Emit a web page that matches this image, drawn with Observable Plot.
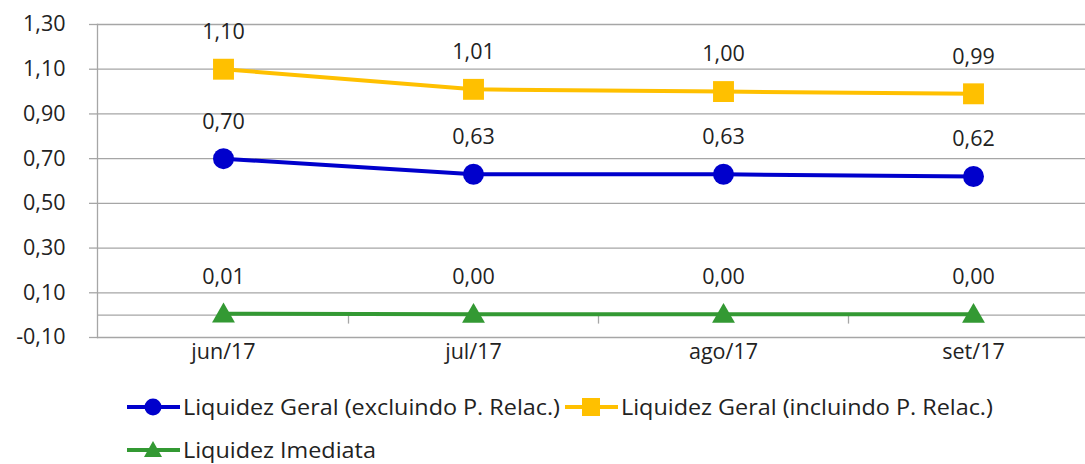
<!DOCTYPE html>
<html><head><meta charset="utf-8">
<script src="https://cdn.jsdelivr.net/npm/d3@7"></script>
<script src="https://cdn.jsdelivr.net/npm/@observablehq/plot@0.6"></script>
<style>
body{margin:0;background:#fff;font-family:"Open Sans",sans-serif;}
#chart{width:1085px;height:464px;position:relative;overflow:hidden;background:#fff}
#legend{position:absolute;left:0;top:370px;width:1085px;height:94px}
.leg{position:absolute;height:30px;display:flex;align-items:center;white-space:nowrap}
.leg svg{flex:none}
.leg span{font-size:21px;line-height:26px;color:#222;transform-origin:left center;display:inline-block;margin-left:3px}
</style></head><body><div id="chart"></div>
<script>
const months = ["jun/17","jul/17","ago/17","set/17"];
const geralExcl = [0.70, 0.63, 0.63, 0.62];
const geralIncl = [1.10, 1.01, 1.00, 0.99];
const imediata = [0.006, 0.004, 0.004, 0.004];
const yTicks = [-0.10, 0.10, 0.30, 0.50, 0.70, 0.90, 1.10, 1.30];
const seriesNames = ["Liquidez Geral (excluindo P. Relac.)", "Liquidez Geral (incluindo P. Relac.)", "Liquidez Imediata"];
const seriesColors = ["#0000CC", "#FFC000", "#339933"];
const seriesSymbols = ["circle", "square", "triangle"];
const seriesValues = [geralExcl, geralIncl, imediata];

const data = seriesNames.flatMap((s, i) => months.map((m, j) => ({series: s, month: m, value: seriesValues[i][j]})));
const fmt = v => d3.format(".2f")(v).replace(".", ",").replace("−", "-");
const grid = "#a6a6a6";
const ink = "#222";

const plot = Plot.plot({
  width: 1085, height: 370,
  marginLeft: 97, marginRight: 0, marginTop: 24, marginBottom: 33,
  style: {fontFamily: "'Open Sans', sans-serif", background: "#fff"},
  x: {type: "band", domain: months, range: [97, 1098], padding: 0, label: null},
  y: {domain: [-0.1, 1.3], label: null},
  color: {domain: seriesNames, range: seriesColors},
  symbol: {domain: seriesNames, range: seriesSymbols},
  marks: [
    Plot.gridY(yTicks, {stroke: grid, strokeOpacity: 1, strokeWidth: 1.3}),
    Plot.axisY(yTicks, {label: null, tickSize: 8, tickPadding: 24, tickFormat: fmt, fontSize: 21.5, stroke: grid, strokeOpacity: 1, strokeWidth: 1.3, fill: ink}),
    Plot.ruleY([0], {stroke: grid, strokeWidth: 1.3}),
    Plot.frame({anchor: "left", stroke: grid, strokeWidth: 1.3}),
    Plot.ruleX(months.slice(1), {x: d => d, y1: 0, y2: -0.04, dx: -125, stroke: grid, strokeWidth: 1.3}),
    Plot.axisX({label: null, tickSize: 0, tickPadding: 6, fontSize: 21.5, fill: ink}),
    Plot.line(data, {x: "month", y: "value", z: "series", stroke: "series", strokeWidth: 4}),
    Plot.dot(data.filter(d => d.series === seriesNames[0]), {x: "month", y: "value", fill: "series", symbol: "series", r: 10.5}),
    Plot.dot(data.filter(d => d.series === seriesNames[1]), {x: "month", y: "value", fill: "series", symbol: "series", r: 11.8}),
    Plot.dot(data.filter(d => d.series === seriesNames[2]), {x: "month", y: "value", fill: "series", symbol: "series", r: 8.5, dy: 2}),
    Plot.text(data, {x: "month", y: "value", text: d => fmt(d.value), dy: -37, fontSize: 21.5, fill: ink})
  ]
});
const chart = document.getElementById("chart");
chart.appendChild(plot);

// legend
const legend = document.createElement("div");
legend.id = "legend";
chart.appendChild(legend);
const legendPos = [[127, 22], [565, 22], [127, 65]];
const markerShape = (i, c) => {
  if (i === 0) return `<circle cx="26" cy="15" r="8.5" fill="${c}"/>`;
  if (i === 1) return `<rect x="17" y="6" width="18" height="18" fill="${c}"/>`;
  return `<path d="M26,6 L35,22 L17,22 Z" fill="${c}"/>`;
};
const spans = [];
seriesNames.forEach((s, i) => {
  const item = document.createElement("div");
  item.className = "leg";
  item.style.left = legendPos[i][0] + "px";
  item.style.top = legendPos[i][1] + "px";
  item.innerHTML = `<svg width="53" height="30"><line x1="0" x2="53" y1="15" y2="15" stroke="${seriesColors[i]}" stroke-width="4"/>${markerShape(i, seriesColors[i])}</svg><span>${s}</span>`;
  legend.appendChild(item);
  spans.push(item.querySelector("span"));
});
const natural = spans[0].getBoundingClientRect().width;
const k = 377 / natural;
spans.forEach(sp => sp.style.transform = `scaleX(${k})`);
</script>
</body></html>
